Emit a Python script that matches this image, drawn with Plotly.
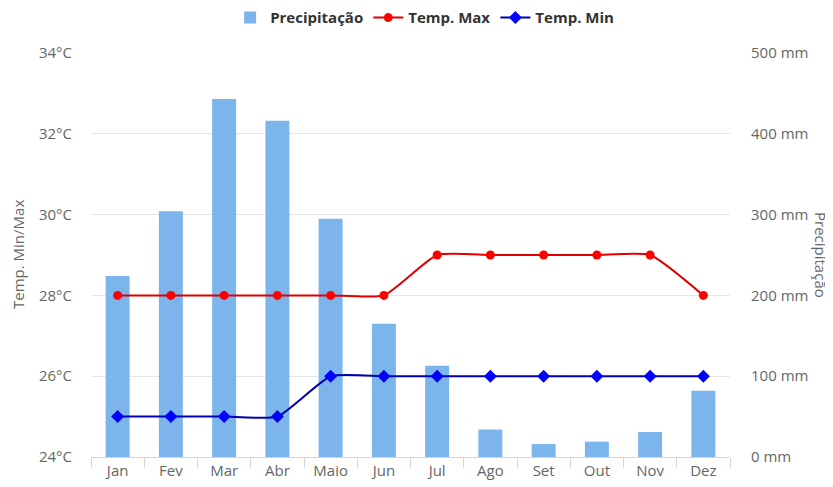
import plotly.graph_objects as go

meses = ["Jan", "Fev", "Mar", "Abr", "Maio", "Jun", "Jul", "Ago", "Set", "Out", "Nov", "Dez"]
precipitacao = [224, 304, 443, 416, 295, 165, 113, 34, 16, 19, 31, 82]
temp_max = [28, 28, 28, 28, 28, 28, 29, 29, 29, 29, 29, 28]
temp_min = [25, 25, 25, 25, 26, 26, 26, 26, 26, 26, 26, 26]

mm_ticks = [0, 100, 200, 300, 400, 500]
mm_labels = [f"{v} mm" for v in mm_ticks]
temp_ticks = [24, 26, 28, 30, 32, 34]
temp_labels = [f"{v}°C" for v in temp_ticks]

FONT = "Open Sans, Arial, sans-serif"

fig = go.Figure()
fig.add_trace(go.Bar(
    x=meses, y=precipitacao, name="Precipitação", yaxis="y",
    marker=dict(color="#7cb5ec", line=dict(width=0)), width=0.45,
))
fig.add_trace(go.Scatter(
    x=meses, y=temp_max, name="Temp. Max", yaxis="y2", mode="lines+markers",
    line=dict(color="#e00000", width=2, shape="spline", smoothing=0.5),
    marker=dict(color="#ff0000", size=9, symbol="circle"),
))
fig.add_trace(go.Scatter(
    x=meses, y=temp_min, name="Temp. Min", yaxis="y2", mode="lines+markers",
    line=dict(color="#0000b0", width=2, shape="spline", smoothing=0.5),
    marker=dict(color="#0000ff", size=10, symbol="diamond"),
))

fig.update_layout(
    width=825, height=479,
    margin=dict(l=83, r=103, t=45, b=30, autoexpand=False),
    paper_bgcolor="white", plot_bgcolor="white",
    font=dict(family=FONT, size=15, color="#666666"),
    showlegend=True,
    legend=dict(
        orientation="h", xref="container", yref="paper",
        x=0.505, xanchor="center", y=1.087, yanchor="middle",
        font=dict(family=FONT, size=15, color="#333333", weight="bold"),
        itemwidth=30, bgcolor="rgba(0,0,0,0)", tracegroupgap=0,
    ),
    xaxis=dict(
        type="category", tickson="boundaries", ticks="outside", ticklen=10,
        tickcolor="#ccd6eb", showline=True, linecolor="#ccd6eb", linewidth=1,
        showgrid=False, zeroline=False, tickfont=dict(size=15, color="#666666"),
        range=[-0.5, 11.5], automargin=False,
    ),
    yaxis=dict(
        side="right", range=[0, 500], tickvals=mm_ticks, ticktext=mm_labels,
        showgrid=True, gridcolor="#e6e6e6", gridwidth=1, zeroline=False,
        ticklabelstandoff=20, tickfont=dict(size=15, color="#666666"),
        showline=False, automargin=False,
    ),
    yaxis2=dict(
        side="left", overlaying="y", range=[24, 34], tickvals=temp_ticks,
        ticktext=temp_labels, showgrid=False, zeroline=False,
        ticklabelstandoff=18, tickfont=dict(size=15, color="#666666"),
        showline=False, automargin=False,
    ),
    annotations=[
        dict(text="Temp. Min/Max", textangle=-90, xref="paper", yref="paper",
             x=0, y=0.5, xanchor="center", yanchor="middle", xshift=-73,
             showarrow=False, font=dict(size=15, color="#666666")),
        dict(text="Precipitação", textangle=90, xref="paper", yref="paper",
             x=1, y=0.5, xanchor="center", yanchor="middle", xshift=91,
             showarrow=False, font=dict(size=15, color="#666666")),
    ],
)

fig.write_html("out.html")
